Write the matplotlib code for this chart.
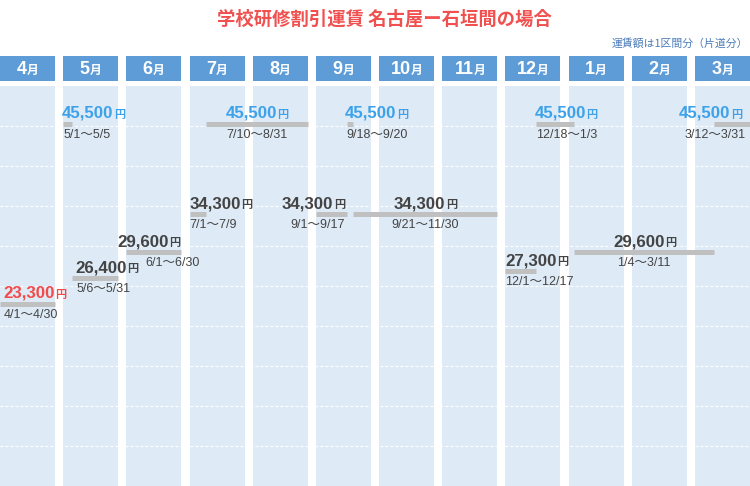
import matplotlib.pyplot as plt
from matplotlib.transforms import offset_copy, blended_transform_factory

# ---- データ ----
month_nums = [4, 5, 6, 7, 8, 9, 10, 11, 12, 1, 2, 3]
month_labels = [f"{m}" for m in month_nums]
days_in_month = [30, 31, 30, 31, 31, 30, 31, 30, 31, 31, 28, 31]

prices = [23300, 45500, 26400, 29600, 34300, 45500, 34300, 45500, 34300, 27300, 45500, 29600, 45500]
starts = ['4/1', '5/1', '5/6', '6/1', '7/1', '7/10', '9/1', '9/18', '9/21', '12/1', '12/18', '1/4', '3/12']
ends = ['4/30', '5/5', '5/31', '6/30', '7/9', '8/31', '9/17', '9/20', '11/30', '12/17', '1/3', '3/11', '3/31']

title = '学校研修割引運賃 名古屋ー石垣間の場合'
note = '運賃額は1区間分（片道分）'

# ラベルの位置合わせ (見た目用)
price_ha = ['left', 'left', 'left', 'right', 'left', 'center', 'right', 'left', 'center', 'left', 'left', 'center', 'right']
price_dx = [3, -1, 3, -1, 0, 0, -2, -2, 0, 0, -1, 0, -8]
date_ha = ['left', 'left', 'left', 'left', 'left', 'center', 'right', 'left', 'center', 'left', 'left', 'center', 'right']
date_dx = [4, 0, 4, 19, 0, 0, -2, -1, 0, 0, 0, 0, -4]

# ---- 色・フォント ----
col_bg = '#deebf7'
head_bg = '#5e9cd8'
bar_c = '#c0c0c0'
blue = '#3ea2ea'
red = '#f24b4b'
dark = '#444444'
lat = 'Liberation Sans'
jp = 'Noto Sans CJK JP'

W = 55 / 63.18  # 列の幅 (月単位)


def to_x(s, end=False):
    m, d = [int(v) for v in s.split('/')]
    i = month_nums.index(m)
    n = days_in_month[i]
    return i + (d if end else d - 1) / n * W


fig = plt.figure(figsize=(7.5, 4.86), dpi=100)
ax = fig.add_axes([0, 0, 1, 400 / 486])
ax.set_xlim(0, 750 / 63.18)
ax.set_ylim(792, 50125)
ax.axis('off')
renderer = fig.canvas.get_renderer()

# 列の背景
for i in range(12):
    ax.axvspan(i, i + W, color=col_bg, lw=0, zorder=0)

# 点線
for k in range(1, 10):
    f = k / 10
    ax.plot([0, 1], [f, f], transform=ax.transAxes, color='white',
            lw=0.8, dashes=(2.5, 2), zorder=1)

# 月のヘッダー
hdr = blended_transform_factory(ax.transData, fig.transFigure)
for i in range(12):
    ax.add_patch(plt.Rectangle((i, (486 - 81) / 486), W, 25 / 486,
                               transform=hdr, color=head_bg, lw=0, clip_on=False))


def two_part(x, y, trans, big, small, ha, dx, dy, color, bsize, ssize, gap=0):
    t1 = ax.text(x, y, big, fontsize=bsize, fontweight='bold', family=lat,
                 color=color, va='baseline', ha='left', transform=trans, clip_on=False, zorder=5)
    t2 = ax.text(x, y, small, fontsize=ssize, fontweight='bold', family=jp,
                 color=color, va='baseline', ha='left', transform=trans, clip_on=False, zorder=5)
    w1 = t1.get_window_extent(renderer).width
    w2 = t2.get_window_extent(renderer).width
    tot = w1 + gap + w2
    shift = round({'left': 0, 'center': -tot / 2, 'right': -tot}[ha] + dx)
    t1.set_transform(offset_copy(trans, fig=fig, x=shift, y=dy, units='dots'))
    t2.set_transform(offset_copy(trans, fig=fig, x=shift + round(w1 + gap), y=dy, units='dots'))


for i, lab in enumerate(month_labels):
    two_part(i + W / 2, (486 - 74) / 486, hdr, lab, '月', 'center', 0, 0, 'white', 13, 8.5)

# 運賃のバー
x0 = [to_x(s) for s in starts]
x1 = [to_x(e, end=True) for e in ends]
ax.hlines(prices, x0, x1, color=bar_c, lw=3.6, zorder=3)

pmax, pmin = max(prices), min(prices)
for j, p in enumerate(prices):
    c = blue if p == pmax else (red if p == pmin else dark)
    ha = price_ha[j]
    xa = {'left': x0[j], 'center': (x0[j] + x1[j]) / 2, 'right': x1[j]}[ha]
    two_part(xa, p, ax.transData, f"{p:,}", '円', ha, price_dx[j], 6, c, 12.2, 8)

    ha = date_ha[j]
    xa = {'left': x0[j], 'center': (x0[j] + x1[j]) / 2, 'right': x1[j]}[ha]
    ax.text(xa, p, f"{starts[j]}～{ends[j]}", fontsize=9, color=dark,
            family=[lat, jp], ha=ha, va='baseline', zorder=5, clip_on=False,
            transform=offset_copy(ax.transData, fig=fig, x=date_dx[j], y=-14, units='dots'))

fig.text(384 / 750, 1 - 19 / 486, title, ha='center', va='center',
         fontsize=13.2, color='#f0504f', family=jp, fontweight='bold')
fig.text(748 / 750, 1 - 43 / 486, note, ha='right', va='center',
         fontsize=7.8, color='#4c7cb8', family=jp)

fig.savefig('out.png', dpi=100)
